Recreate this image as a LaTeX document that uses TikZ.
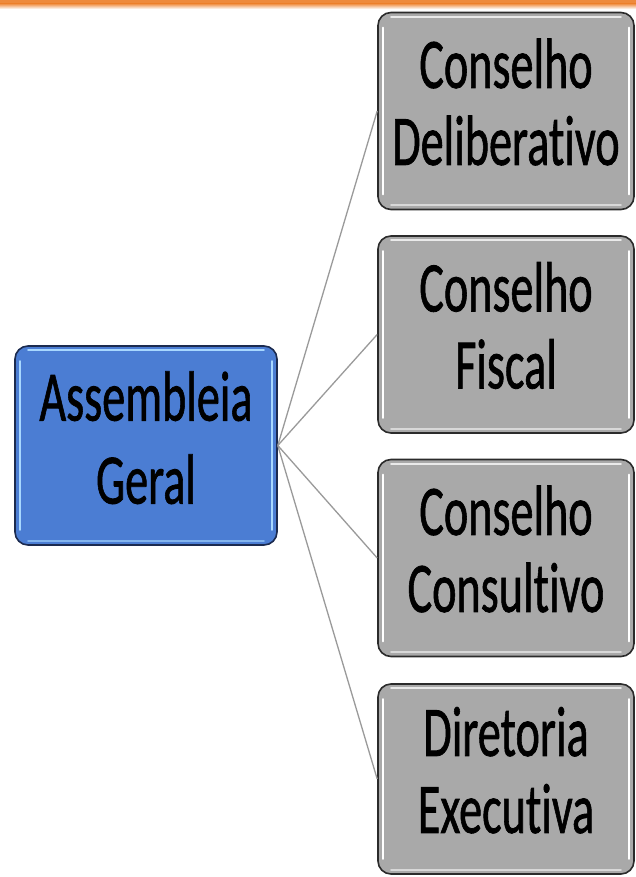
\documentclass[tikz,border=0pt]{standalone}
\usepackage{fontspec}
\setmainfont{Carlito}[Ligatures=NoCommon, FakeBold=1.2]
\usetikzlibrary{calc}
\definecolor{boxgray}{HTML}{A9A9A9}
\definecolor{boxedge}{HTML}{2B2B2B}
\definecolor{agblue}{HTML}{4B7DD3}
\definecolor{agedge}{HTML}{1C2B4F}
\definecolor{agshine}{HTML}{A8D8FF}
\definecolor{connc}{HTML}{9A9A9A}
\definecolor{topor}{HTML}{EE8A3C}
\newcommand{\twolines}[3][77]{\scalebox{0.65}[1]{\fontsize{71}{#1}\selectfont\begin{tabular}{@{}c@{}}#2\\#3\end{tabular}}}
\tikzset{
  orgbox/.style={draw=boxedge, line width=1.6pt, fill=boxgray, rounded corners=13pt,
    minimum width=256pt, minimum height=197pt, inner sep=0pt, text=black},
  agbox/.style={draw=agedge, line width=1.6pt, fill=agblue, rounded corners=13pt,
    minimum width=262pt, minimum height=199pt, inner sep=0pt, text=black},
  conn/.style={draw=connc, line width=1.3pt},
  shine/.style={line width=2.2pt, line cap=round},
}
\begin{document}
\begin{tikzpicture}[x=1pt,y=-1pt]
\useasboundingbox (0,0) rectangle (636,877);
\fill[white] (0,0) rectangle (636,877);
\fill[topor] (0,0) rectangle (636,3.5);
\shade[top color=topor, bottom color=white] (0,3.5) rectangle (636,9);

\node[agbox] (ag) at (146,445.5) {\twolines[83]{Assembleia}{Geral}};
\node[orgbox] (b1) at (506,111) {\twolines{Conselho}{Deliberativo}};
\node[orgbox] (b2) at (506,334.5) {\twolines{Conselho}{Fiscal}};
\node[orgbox] (b3) at (506,558) {\twolines{Conselho}{Consultivo}};
\node[orgbox, minimum height=190pt] (b4) at (506,779) {\twolines{Diretoria}{Executiva}};

\foreach \b in {b1,b2,b3,b4}{
  \draw[shine, white!75!boxgray] ($(\b.north west)+(14,5)$) -- ($(\b.north east)+(-14,5)$);
  \draw[shine, white] ($(\b.north west)+(6,16)$) -- ($(\b.south west)+(6,-16)$);
  \draw[shine, white] ($(\b.north east)+(-6,16)$) -- ($(\b.south east)+(-6,-16)$);
  \draw[shine, white!55!boxgray] ($(\b.south west)+(14,-5)$) -- ($(\b.south east)+(-14,-5)$);
}
\draw[shine, agshine] ($(ag.north west)+(14,5)$) -- ($(ag.north east)+(-14,5)$);
\draw[shine, agshine] ($(ag.north west)+(6,16)$) -- ($(ag.south west)+(6,-16)$);
\draw[shine, agshine] ($(ag.north east)+(-6,16)$) -- ($(ag.south east)+(-6,-16)$);
\draw[shine, agshine!60!agblue] ($(ag.south west)+(14,-5)$) -- ($(ag.south east)+(-14,-5)$);

\draw[conn] (ag.east) -- (b1.west);
\draw[conn] (ag.east) -- (b2.west);
\draw[conn] (ag.east) -- (b3.west);
\draw[conn] (ag.east) -- (b4.west);
\end{tikzpicture}
\end{document}
